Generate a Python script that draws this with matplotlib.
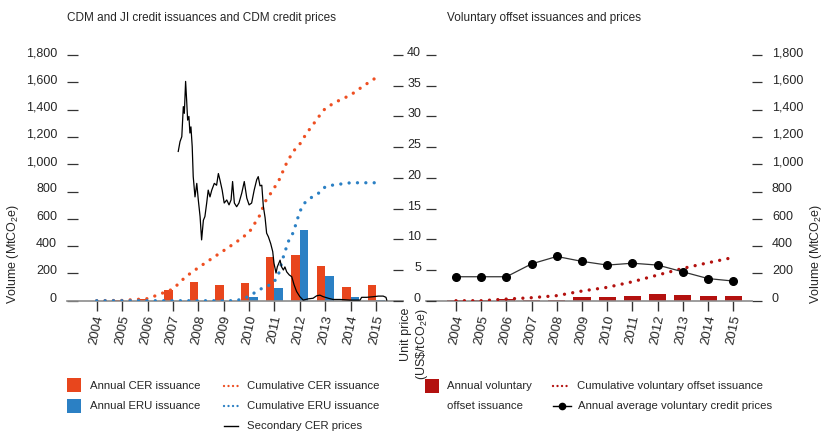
import numpy as np
import matplotlib
matplotlib.use('Agg')
import matplotlib.pyplot as plt
from matplotlib.patches import Rectangle
from matplotlib.transforms import ScaledTranslation

plt.rcParams['font.family'] = ['Liberation Sans', 'DejaVu Sans']
plt.rcParams['mathtext.fontset'] = 'custom'
plt.rcParams['mathtext.rm'] = 'Liberation Sans'
plt.rcParams['mathtext.it'] = 'Liberation Sans:italic'

## data ##

years = np.arange(2004, 2016)
year_labels = [str(y) for y in years]

# CDM / JI annual issuance (MtCO2e)
cer_annual = [0, 2, 15, 75, 137, 115, 130, 322, 335, 256, 103, 113]
eru_annual = [0, 0, 0, 0, 0, 0, 29, 91, 518, 181, 25, 3]

# cumulative issuance, read at points along the curves
cer_cum_t = [2004.0, 2005.0, 2006.0, 2006.4, 2007.0, 2007.5, 2008.0, 2008.5, 2009.0, 2009.5,
             2010.0, 2010.43, 2010.63, 2010.94, 2011.18, 2011.47, 2011.73, 2012.0, 2012.26,
             2012.46, 2012.79, 2013.0, 2013.22, 2013.44, 2014.0, 2014.5, 2015.0]
cer_cum = [0, 2, 15, 42, 85, 175, 242, 305, 367, 430, 500, 628, 725, 811, 884, 1006, 1092,
           1148, 1226, 1275, 1360, 1409, 1434, 1458, 1507, 1573, 1634]
eru_cum_t = [2004.0, 2009.5, 2009.96, 2010.45, 2010.95, 2011.15, 2011.35, 2011.54, 2011.74,
             2012.0, 2012.2, 2012.4, 2012.79, 2013.0, 2013.32, 2014.0, 2015.0]
eru_cum = [0, 0, 29, 85, 127, 188, 322, 432, 500, 655, 718, 750, 794, 835, 848, 864, 864]

# secondary CER price (US$/tCO2e)
price_t = [2007.21, 2007.28, 2007.35, 2007.41, 2007.45, 2007.50, 2007.54, 2007.58, 2007.63,
           2007.67, 2007.71, 2007.76, 2007.80, 2007.87, 2007.94, 2008.00, 2008.07, 2008.13,
           2008.20, 2008.26, 2008.33, 2008.39, 2008.46, 2008.53, 2008.63, 2008.72, 2008.79,
           2008.85, 2008.94, 2009.02, 2009.12, 2009.21, 2009.29, 2009.35, 2009.42, 2009.51,
           2009.60, 2009.71, 2009.81, 2009.91, 2010.00, 2010.10, 2010.20, 2010.30, 2010.36,
           2010.43, 2010.50, 2010.56, 2010.63, 2010.69, 2010.76, 2010.85, 2010.93, 2010.98,
           2011.06, 2011.11, 2011.22, 2011.28, 2011.35, 2011.41, 2011.48, 2011.58, 2011.68,
           2011.77, 2011.87, 2012.00, 2012.13, 2012.33, 2012.52, 2012.66, 2012.79, 2012.92,
           2013.12, 2013.31, 2013.58, 2013.97, 2014.37, 2014.43, 2014.63, 2014.89, 2015.09,
           2015.28, 2015.39, 2015.42]
price = [24.3, 25.9, 26.7, 31.6, 30.5, 35.7, 32.7, 29.4, 30.0, 27.3, 28.3, 25.1, 20.2, 16.9,
         19.1, 16.4, 13.7, 9.9, 13.1, 13.7, 15.9, 18.0, 16.9, 18.0, 19.1, 18.8, 20.7, 19.7,
         18.0, 15.9, 16.4, 15.6, 16.4, 19.4, 15.9, 15.3, 15.9, 17.5, 19.4, 16.7, 15.6, 15.9,
         18.0, 19.7, 20.2, 18.7, 18.8, 15.4, 13.5, 11.0, 10.4, 9.3, 8.0, 6.1, 4.5, 5.5, 6.6,
         5.5, 5.0, 5.5, 4.7, 4.2, 3.9, 2.6, 1.5, 0.65, 0.1, 0.3, 0.4, 0.8, 0.9, 0.65, 0.4,
         0.2, 0.2, 0.1, 0.1, 0.55, 0.55, 0.65, 0.75, 0.75, 0.55, 0.1]

# voluntary market
vol_annual = [2, 3, 12, 6, 7, 24, 29, 37, 49, 44, 37, 37]
vol_cum = [0, 0, 12, 22, 37, 71, 98, 139, 188, 237, 278, 317]
vol_price = [3.9, 3.9, 3.9, 6.0, 7.2, 6.4, 5.8, 6.1, 5.8, 4.7, 3.6, 3.2]

vol_ticks = [0, 200, 400, 600, 800, 1000, 1200, 1400, 1600, 1800]
vol_ticklabels = ['0', '200', '400', '600', '800', '1,000', '1,200', '1,400', '1,600', '1,800']
price_ticks = [0, 5, 10, 15, 20, 25, 30, 35, 40]

## style ##

c_cer = '#E8461D'
c_cer_cum = '#EE4F22'
c_eru = '#2B80C4'
c_vol = '#B3110F'
c_text = '#262626'
c_tick = '#333333'

dots = (0, (0.01, 2.5))

W, H = 825, 434
fig = plt.figure(figsize=(W / 100, H / 100), dpi=100)


def rect(x0, x1):
    return [x0 / W, (H - 300.7) / H, (x1 - x0) / W, 245.7 / H]


def lift(labels):
    for lb in labels:
        lb.set_transform(lb.get_transform() + ScaledTranslation(0, 3.5 / 100, fig.dpi_scale_trans))


def base_style(ax):
    for s in ['top', 'left', 'right']:
        ax.spines[s].set_visible(False)
    ax.spines['bottom'].set_color('#8c8c8c')
    ax.spines['bottom'].set_linewidth(1.2)
    ax.patch.set_visible(False)
    ax.set_xticks(years)
    ax.set_xticklabels(year_labels, rotation=78, ha='center', va='top', fontsize=9.5, color=c_text)
    ax.tick_params(axis='x', direction='out', length=7.2, width=1, color=c_tick, pad=2.5)


## left panel: CDM and JI ##

ax1 = fig.add_axes(rect(67, 403))
ax1p = ax1.twinx()
for s in ax1p.spines.values():
    s.set_visible(False)

ax1.bar(years, cer_annual, width=-0.335, align='edge', color=c_cer, zorder=2)
ax1.bar(years, eru_annual, width=0.335, align='edge', color=c_eru, zorder=2)
ax1.plot(cer_cum_t, cer_cum, color=c_cer_cum, lw=2.4, linestyle=dots, dash_capstyle='round', zorder=3)
ax1.plot(eru_cum_t, eru_cum, color=c_eru, lw=2.4, linestyle=dots, dash_capstyle='round', zorder=3)
ax1p.plot(price_t, price, color='black', lw=0.9)

ax1.set_xlim(2002.83, 2016.06)
ax1.set_ylim(0, 1800)
ax1p.set_ylim(0, 40)
base_style(ax1)
ax1.set_yticks(vol_ticks)
ax1.set_yticklabels(vol_ticklabels, fontsize=9, color=c_text)
ax1.tick_params(axis='y', direction='in', length=8, width=0.9, color=c_tick, pad=7.2)
ax1p.set_yticks(price_ticks)
ax1p.tick_params(axis='y', direction='in', length=7.2, width=0.9, color=c_tick, labelright=False)
lift(ax1.get_yticklabels())

## right panel: voluntary ##

ax2 = fig.add_axes(rect(426, 752))
ax2p = ax2.twinx()
ax2.yaxis.tick_right()
ax2p.yaxis.tick_left()
for s in ax2p.spines.values():
    s.set_visible(False)

ax2.bar(years, vol_annual, width=0.68, color=c_vol, zorder=2)
ax2.plot(years, vol_cum, color=c_vol, lw=2.4, linestyle=dots, dash_capstyle='round', zorder=3)
ax2p.plot(years, vol_price, color=c_tick, lw=0.9, marker='o', ms=5.5, mfc='black', mec='black')

ax2.set_xlim(2002.81, 2015.74)
ax2.set_ylim(0, 1800)
ax2p.set_ylim(0, 40)
base_style(ax2)
ax2.set_yticks(vol_ticks)
ax2.set_yticklabels(vol_ticklabels, fontsize=9, color=c_text)
ax2.tick_params(axis='y', direction='out', length=7.2, width=0.9, color=c_tick, pad=7.2)
ax2p.set_yticks(price_ticks)
ax2p.set_yticklabels([str(v) for v in price_ticks], fontsize=9, color=c_text)
ax2p.tick_params(axis='y', direction='in', length=7.2, width=0.9, color=c_tick, pad=3.6)
lift(ax2.get_yticklabels())
lift(ax2p.get_yticklabels())

## titles and axis labels ##

fig.text(67 / W, 1 - 18 / H, 'CDM and JI credit issuances and CDM credit prices',
         fontsize=8.5, color=c_text, va='center', ha='left')
fig.text(447 / W, 1 - 18 / H, 'Voluntary offset issuances and prices',
         fontsize=8.5, color=c_text, va='center', ha='left')
fig.text(13 / W, 1 - 254 / H, 'Volume (MtCO$_2$e)', rotation=90, fontsize=9,
         color=c_text, ha='center', va='center')
fig.text(816 / W, 1 - 254 / H, 'Volume (MtCO$_2$e)', rotation=90, fontsize=9,
         color=c_text, ha='center', va='center')
fig.text(415 / W, 1 - 308 / H, 'Unit price\n(US\\$/tCO$_2$e)', rotation=90, fontsize=9,
         color=c_text, ha='center', va='top', multialignment='right', linespacing=1.1)

## legend (drawn in pixel space) ##

lg = fig.add_axes([0, 0, 1, 1])
lg.set_xlim(0, W)
lg.set_ylim(H, 0)
lg.axis('off')

lfs = 8.2
ldots = (0, (0.01, 1.9))


def swatch(x, y, color):
    lg.add_patch(Rectangle((x, y - 7), 14, 14, color=color, lw=0))


def ltext(x, y, s):
    lg.text(x, y, s, fontsize=lfs, color=c_text, va='center', ha='left')


swatch(67, 385, c_cer)
ltext(90, 386, 'Annual CER issuance')
swatch(67, 405.5, c_eru)
ltext(90, 406, 'Annual ERU issuance')

lg.plot([224, 240], [386, 386], color=c_cer_cum, lw=1.7, linestyle=ldots, dash_capstyle='round')
ltext(247, 386, 'Cumulative CER issuance')
lg.plot([224, 240], [406, 406], color=c_eru, lw=1.7, linestyle=ldots, dash_capstyle='round')
ltext(247, 406, 'Cumulative ERU issuance')
lg.plot([224, 238], [426, 426], color='black', lw=1)
ltext(247, 426, 'Secondary CER prices')

swatch(425, 386, c_vol)
ltext(447, 386, 'Annual voluntary')
ltext(447, 406, 'offset issuance')
lg.plot([553, 571], [386, 386], color=c_vol, lw=1.7, linestyle=ldots, dash_capstyle='round')
ltext(577, 386, 'Cumulative voluntary offset issuance')
lg.plot([553, 571], [406, 406], color='black', lw=1)
lg.plot([562], [406], 'o', color='black', ms=4.5)
ltext(578, 406, 'Annual average voluntary credit prices')

fig.savefig('out.png', dpi=100)
